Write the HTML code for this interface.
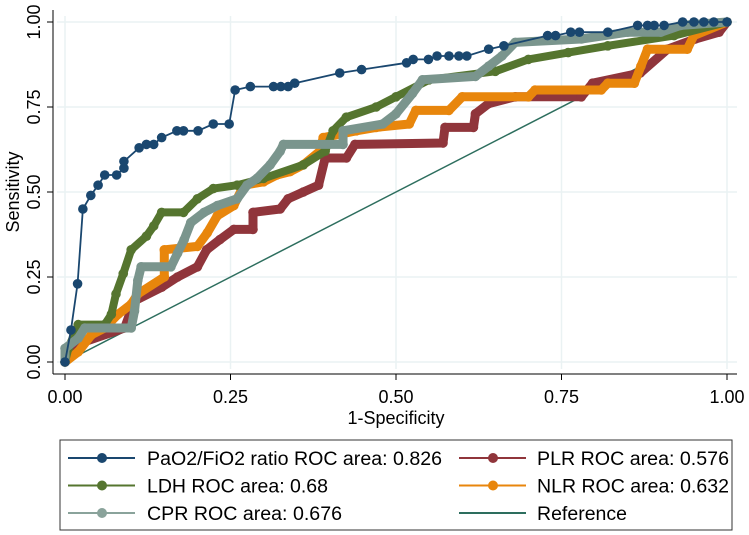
<!DOCTYPE html>
<html><head><meta charset="utf-8"><style>
body{margin:0;background:#fff;}
svg{display:block;font-family:"Liberation Sans",sans-serif;}
</style></head><body>
<svg id="chart" width="749" height="535" viewBox="0 0 749 535" xmlns="http://www.w3.org/2000/svg">
<g id="grid"></g>
<g id="axes"></g>
<g id="series"></g>
<g id="legend"></g>
</svg>
<script>
const ticks = [0, 0.25, 0.5, 0.75, 1];
const tickLabels = ["0.00", "0.25", "0.50", "0.75", "1.00"];
const pfX = [0,0.009,0.019,0.027,0.039,0.05,0.06,0.078,0.089,0.089,0.112,0.123,0.134,0.146,0.169,0.179,0.201,0.224,0.248,0.257,0.28,0.315,0.326,0.337,0.347,0.415,0.448,0.516,0.526,0.549,0.562,0.58,0.595,0.607,0.64,0.663,0.729,0.741,0.764,0.777,0.82,0.865,0.88,0.89,0.905,0.933,0.95,0.965,0.98,1];
const pfY = [0,0.094,0.23,0.45,0.49,0.52,0.55,0.55,0.57,0.59,0.63,0.64,0.64,0.66,0.68,0.68,0.68,0.70,0.70,0.80,0.81,0.81,0.81,0.81,0.82,0.85,0.86,0.88,0.89,0.89,0.90,0.90,0.90,0.90,0.92,0.93,0.96,0.96,0.97,0.97,0.97,0.99,0.99,0.99,0.99,1,1,1,1,1];
const ldhX = [0,0.005,0.02,0.06,0.07,0.077,0.088,0.1,0.123,0.134,0.146,0.179,0.2,0.224,0.26,0.3,0.36,0.393,0.405,0.425,0.47,0.5,0.55,0.65,0.7,0.76,0.82,0.92,1];
const ldhY = [0,0.04,0.11,0.11,0.14,0.2,0.26,0.33,0.37,0.40,0.44,0.44,0.48,0.51,0.52,0.54,0.58,0.62,0.68,0.72,0.75,0.78,0.83,0.855,0.89,0.91,0.93,0.96,1];
const plrX = [0,0.03,0.09,0.105,0.146,0.17,0.2,0.214,0.234,0.255,0.284,0.284,0.325,0.337,0.36,0.383,0.393,0.425,0.438,0.571,0.574,0.617,0.62,0.64,0.68,0.78,0.797,0.869,0.91,0.952,0.988,1];
const plrY = [0,0.06,0.1,0.18,0.22,0.25,0.28,0.33,0.36,0.39,0.39,0.44,0.45,0.48,0.50,0.52,0.60,0.60,0.64,0.644,0.69,0.69,0.73,0.76,0.78,0.78,0.82,0.85,0.92,0.95,0.97,1];
const nlrX = [0,0.02,0.04,0.06,0.08,0.1,0.11,0.15,0.15,0.2,0.215,0.23,0.255,0.27,0.3,0.32,0.34,0.36,0.385,0.39,0.44,0.47,0.52,0.53,0.58,0.6,0.7,0.71,0.81,0.82,0.86,0.87,0.88,0.94,0.95,1];
const nlrY = [0,0.03,0.08,0.10,0.14,0.17,0.2,0.25,0.33,0.34,0.38,0.43,0.46,0.52,0.53,0.55,0.56,0.58,0.62,0.66,0.68,0.69,0.70,0.74,0.74,0.78,0.78,0.80,0.80,0.82,0.82,0.87,0.92,0.92,0.96,1];
const cprX = [0,0,0.02,0.03,0.1,0.105,0.11,0.115,0.16,0.17,0.18,0.19,0.21,0.23,0.26,0.275,0.29,0.31,0.325,0.33,0.42,0.42,0.48,0.5,0.525,0.54,0.62,0.64,0.66,0.68,0.78,0.85,0.9,0.93,1];
const cprY = [0,0.04,0.07,0.1,0.1,0.15,0.24,0.28,0.28,0.32,0.36,0.41,0.44,0.46,0.48,0.52,0.54,0.58,0.62,0.64,0.64,0.68,0.70,0.73,0.79,0.83,0.84,0.87,0.90,0.94,0.95,0.97,0.97,0.99,1];
const refX = [0, 1];
const refY = [0, 1];

const NS = "http://www.w3.org/2000/svg";
const X0 = 65, X1 = 727, Y0 = 362, Y1 = 22;
function sx(v){ return X0 + v * (X1 - X0); }
function sy(v){ return Y0 - v * (Y0 - Y1); }
function mk(tag, attrs, parent){
  const e = document.createElementNS(NS, tag);
  for (const k in attrs) e.setAttribute(k, attrs[k]);
  parent.appendChild(e);
  return e;
}
const grid = document.getElementById('grid');
const axes = document.getElementById('axes');
const series = document.getElementById('series');
const legend = document.getElementById('legend');

ticks.forEach((t, i) => {
  const gh = mk('line', {x1: 57, x2: 737, y1: sy(t), y2: sy(t), stroke: '#eaf2f3', 'stroke-width': 1.5}, grid);
  
  
  const gv = mk('line', {x1: sx(t), x2: sx(t), y1: 16, y2: 369, stroke: '#eaf2f3', 'stroke-width': 1.5}, grid);
  
  
  const ty = mk('line', {x1: 47, x2: 53, y1: sy(t), y2: sy(t), stroke: '#000', 'stroke-width': 1}, axes);
  
  
  const tx = mk('line', {x1: sx(t), x2: sx(t), y1: 374, y2: 380, stroke: '#000', 'stroke-width': 1}, axes);
  
  
  const ly = mk('text', {x: 0, y: 0, 'font-size': 18, 'text-anchor': 'middle', transform: 'translate(40,' + sy(t) + ') rotate(-90)'}, axes);
  ly.textContent = tickLabels[i];
  
  
  const lx = mk('text', {x: sx(t), y: 403, 'font-size': 18, 'text-anchor': 'middle'}, axes);
  lx.textContent = tickLabels[i];
  
  
});
const ax1 = mk('line', {x1: 53, x2: 53, y1: 10, y2: 374, stroke: '#000', 'stroke-width': 1}, axes);


const ax2 = mk('line', {x1: 53, x2: 737, y1: 374, y2: 374, stroke: '#000', 'stroke-width': 1}, axes);


const yt = mk('text', {x: 0, y: 0, 'font-size': 18, 'text-anchor': 'middle', transform: 'translate(19,192) rotate(-90)'}, axes);
yt.textContent = 'Sensitivity';


const xt = mk('text', {x: 396, y: 424, 'font-size': 18, 'text-anchor': 'middle'}, axes);
xt.textContent = '1-Specificity';



function drawSeries(xs, ys, color, name, thick, markers){
  const g = mk('g', {}, series);
  
  
  const pts = xs.map((x, i) => sx(x) + ',' + sy(ys[i])).join(' ');
  const pl = mk('polyline', {points: pts, fill: 'none', stroke: color, 'stroke-width': thick, 'stroke-linejoin': 'round', 'stroke-linecap': 'round'}, g);
  
  
  if (markers) xs.forEach((x, i) => {
    const c = mk('circle', {cx: sx(x), cy: sy(ys[i]), r: 4.8, fill: color}, g);
    
    
  });
}
drawSeries(refX, refY, '#2d6e5e', 'reference-line', 1.5, false);
drawSeries(plrX, plrY, '#90353b', 'plr-curve', 9, true);
drawSeries(nlrX, nlrY, '#e8860c', 'nlr-curve', 9, true);
drawSeries(ldhX, ldhY, '#55752f', 'ldh-curve', 8, true);
drawSeries(cprX, cprY, '#7a958d', 'cpr-curve', 9, true);
drawSeries(pfX, pfY, '#1a476f', 'pao2-fio2-curve', 1.8, true);

const box = mk('rect', {x: 60, y: 440, width: 672, height: 90, fill: '#fff', stroke: '#333', 'stroke-width': 1}, legend);


const legNames = ['PaO2/FiO2 ratio ROC area: 0.826', 'PLR ROC area: 0.576', 'LDH ROC area: 0.68', 'NLR ROC area: 0.632', 'CPR ROC area: 0.676', 'Reference'];
const legWidths = [295, 192, 181, 192, 195, 90];
const legColors = ['#1a476f', '#90353b', '#55752f', '#e8860c', '#8aa39b', '#2d6e5e'];
legNames.forEach((n, i) => {
  const col = i % 2, row = Math.floor(i / 2);
  const lx0 = col ? 459 : 68, ly = 458 + row * 27.5;
  const g = mk('g', {}, legend);
  
  
  const l = mk('line', {x1: lx0, x2: lx0 + 67, y1: ly, y2: ly, stroke: legColors[i], 'stroke-width': 2}, g);
  
  
  if (i < 5) {
    const c = mk('circle', {cx: lx0 + 34, cy: ly, r: 5, fill: legColors[i]}, g);
    
    
  }
  const t = mk('text', {x: lx0 + (col ? 78 : 79), y: ly + 7, 'font-size': 19, textLength: legWidths[i], lengthAdjust: 'spacingAndGlyphs'}, g);
  t.textContent = n;
  
  
});
</script>
</body></html>
